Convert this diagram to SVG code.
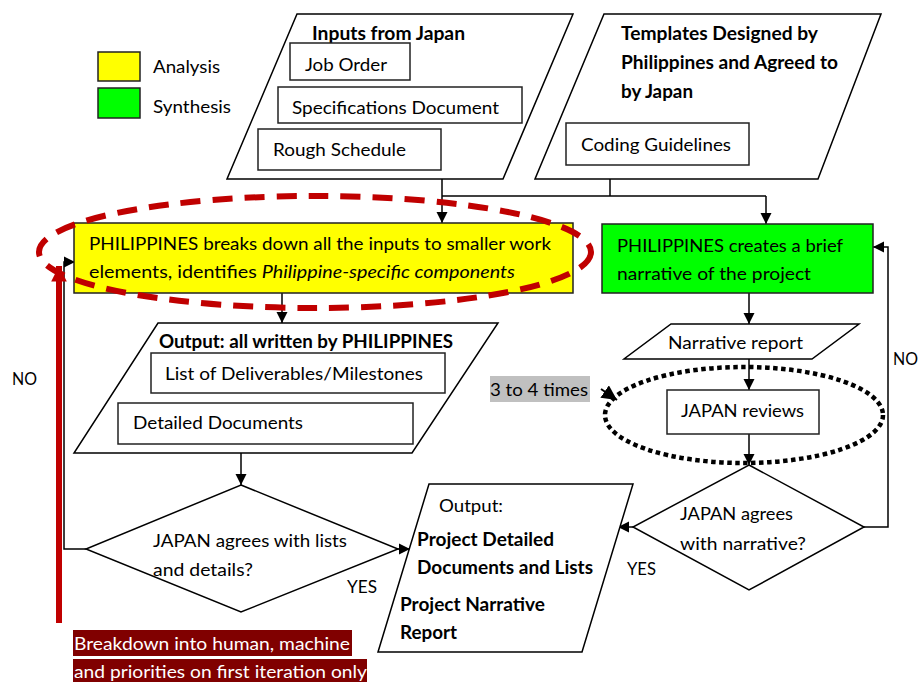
<svg xmlns="http://www.w3.org/2000/svg" width="920" height="682" viewBox="0 0 920 682">
<defs>
<style>
text{font-family:Lato,"Liberation Sans",sans-serif;font-size:18px;fill:#000}
.b{font-weight:bold}
.w{fill:#fff}
.shape{fill:#fff;stroke:#000;stroke-width:1.5}
.box{fill:#fff;stroke:#222;stroke-width:1.5}
.ln{fill:none;stroke:#000;stroke-width:1.5}
.lna{fill:none;stroke:#000;stroke-width:1.5;marker-end:url(#ah)}
</style>
<marker id="ah" viewBox="0 0 10 10" refX="10" refY="5" markerWidth="7.5" markerHeight="7.5" markerUnits="strokeWidth" orient="auto">
<path d="M0,0 L10,5 L0,10 z" fill="#000"/>
</marker>
<marker id="ahr" viewBox="0 0 10 10" refX="10" refY="5" markerWidth="2.6" markerHeight="2.6" markerUnits="strokeWidth" orient="auto">
<path d="M0,0 L10,5 L0,10 z" fill="#C00000"/>
</marker>
</defs>
<rect width="920" height="682" fill="#fff"/>

<g id="legend">
<rect x="98" y="52" width="42" height="29" fill="#FFFF00" stroke="#222" stroke-width="1.5"/>
<rect x="98" y="88" width="42" height="30" fill="#00FF00" stroke="#222" stroke-width="1.5"/>
<text x="153" y="73" textLength="67" lengthAdjust="spacingAndGlyphs">Analysis</text>
<text x="153" y="113" textLength="78" lengthAdjust="spacingAndGlyphs">Synthesis</text>
</g>

<g id="inputs">
<polygon class="shape" points="297,14 573,14 503,179 227,179"/>
<text class="b" x="312" y="40" textLength="153" lengthAdjust="spacingAndGlyphs">Inputs from Japan</text>
<rect class="box" x="290" y="43" width="120" height="37"/>
<text x="305" y="71" textLength="82" lengthAdjust="spacingAndGlyphs">Job Order</text>
<rect class="box" x="278" y="87" width="244" height="36"/>
<text x="292" y="114" textLength="207" lengthAdjust="spacingAndGlyphs">Specifications Document</text>
<rect class="box" x="258" y="129" width="183" height="41"/>
<text x="273" y="156" textLength="133" lengthAdjust="spacingAndGlyphs">Rough Schedule</text>
</g>

<g id="templates">
<polygon class="shape" points="604,14 881,14 818,179 535,179"/>
<text class="b" x="621" y="40" textLength="197" lengthAdjust="spacingAndGlyphs">Templates Designed by</text>
<text class="b" x="621" y="69" textLength="217" lengthAdjust="spacingAndGlyphs">Philippines and Agreed to</text>
<text class="b" x="621" y="98" textLength="72" lengthAdjust="spacingAndGlyphs">by Japan</text>
<rect class="box" x="566" y="123" width="183" height="42"/>
<text x="581" y="151" textLength="150" lengthAdjust="spacingAndGlyphs">Coding Guidelines</text>
</g>

<g id="connectors">
<path class="lna" d="M442,179 V223"/>
<path class="ln" d="M442,196 H766"/>
<path class="ln" d="M610,179 V196"/>
<path class="lna" d="M766,196 V224"/>
<path class="lna" d="M282,293 V323"/>
<path class="lna" d="M749,293 V324"/>
<path class="lna" d="M749,359 V390"/>
<path class="lna" d="M749,434 V465"/>
<path class="lna" d="M241,453 V485"/>
<path class="lna" d="M396,549 L410,549"/>
<path class="lna" d="M633,527 L618,527"/>
<path class="lna" d="M86,549 H64 V262 H75"/>
<path class="lna" d="M864,527 H888 V247 H873"/>
<path class="lna" d="M601,389 L617,400" style="stroke-width:2"/>
<path d="M59,623 V266" fill="none" stroke="#C00000" stroke-width="6" marker-end="url(#ahr)"/>
</g>

<g id="breakdown">
<rect x="602" y="224" width="271" height="69" fill="#00FF00" stroke="#222" stroke-width="1.5"/>
<text x="617" y="252" textLength="226" lengthAdjust="spacingAndGlyphs">PHILIPPINES creates a brief</text>
<text x="617" y="280" textLength="194" lengthAdjust="spacingAndGlyphs">narrative of the project</text>
</g>

<g id="analysis">
<rect x="74" y="223" width="499" height="70" fill="#FFFF00" stroke="#222" stroke-width="1.5"/>
<text x="89" y="250" textLength="462" lengthAdjust="spacingAndGlyphs">PHILIPPINES breaks down all the inputs to smaller work</text>
<text x="89" y="278" textLength="426" lengthAdjust="spacingAndGlyphs">elements, identifies <tspan font-style="italic">Philippine-specific components</tspan></text>
</g>

<g id="red-ellipse">
<ellipse cx="315" cy="252" rx="276" ry="56" fill="none" stroke="#C00000" stroke-width="6" stroke-dasharray="20 12"/>
</g>

<g id="output-ph">
<polygon class="shape" points="158,323 498,323 412,453 74,453"/>
<text class="b" x="159" y="348" textLength="294" lengthAdjust="spacingAndGlyphs">Output: all written by PHILIPPINES</text>
<rect class="box" x="151" y="353" width="294" height="40"/>
<text x="165" y="380" textLength="258" lengthAdjust="spacingAndGlyphs">List of Deliverables/Milestones</text>
<rect class="box" x="118" y="403" width="295" height="41"/>
<text x="133" y="429" textLength="170" lengthAdjust="spacingAndGlyphs">Detailed Documents</text>
</g>

<g id="narrative-report">
<polygon class="shape" points="671,324 859,324 812,359 624,359"/>
<text x="668" y="349" textLength="135" lengthAdjust="spacingAndGlyphs">Narrative report</text>
</g>

<g id="japan-reviews">
<rect class="box" x="667" y="390" width="152" height="44"/>
<text x="681" y="417" textLength="123" lengthAdjust="spacingAndGlyphs">JAPAN reviews</text>
</g>

<g id="loop-note">
<ellipse cx="744" cy="415" rx="139" ry="48" fill="none" stroke="#000" stroke-width="4.5" stroke-dasharray="4.5 3.5"/>
<rect x="490" y="376" width="100" height="26" fill="#C0C0C0"/>
<text x="490" y="396" textLength="98" lengthAdjust="spacingAndGlyphs">3 to 4 times</text>
</g>

<g id="decision-lists">
<polygon class="shape" points="241,485 398,549 241,612 86,549"/>
<text x="153" y="547" textLength="194" lengthAdjust="spacingAndGlyphs">JAPAN agrees with lists</text>
<text x="153" y="576" textLength="100" lengthAdjust="spacingAndGlyphs">and details?</text>
<text x="347" y="593" textLength="30" lengthAdjust="spacingAndGlyphs">YES</text>
<text x="12" y="385" textLength="25" lengthAdjust="spacingAndGlyphs">NO</text>
</g>

<g id="decision-narrative">
<polygon class="shape" points="749,465 864,527 749,590 633,527"/>
<text x="680" y="520" textLength="113" lengthAdjust="spacingAndGlyphs">JAPAN agrees</text>
<text x="680" y="550" textLength="126" lengthAdjust="spacingAndGlyphs">with narrative?</text>
<text x="627" y="575" textLength="29" lengthAdjust="spacingAndGlyphs">YES</text>
<text x="893" y="365" textLength="25" lengthAdjust="spacingAndGlyphs">NO</text>
</g>

<g id="final-output">
<polygon class="shape" points="429,484 633,484 582,652 378,652"/>
<text x="439" y="512" textLength="64" lengthAdjust="spacingAndGlyphs">Output:</text>
<text class="b" x="417" y="546" textLength="137" lengthAdjust="spacingAndGlyphs">Project Detailed</text>
<text class="b" x="417" y="574" textLength="176" lengthAdjust="spacingAndGlyphs">Documents and Lists</text>
<text class="b" x="400" y="611" textLength="145" lengthAdjust="spacingAndGlyphs">Project Narrative</text>
<text class="b" x="400" y="639" textLength="57" lengthAdjust="spacingAndGlyphs">Report</text>
</g>

<g id="note">
<rect x="73" y="630" width="279" height="26" fill="#800000"/>
<rect x="73" y="659" width="294" height="23" fill="#800000"/>
<text class="w" x="74" y="650" textLength="276" lengthAdjust="spacingAndGlyphs">Breakdown into human, machine</text>
<text class="w" x="74" y="678" textLength="293" lengthAdjust="spacingAndGlyphs">and priorities on first iteration only</text>
</g>
</svg>
